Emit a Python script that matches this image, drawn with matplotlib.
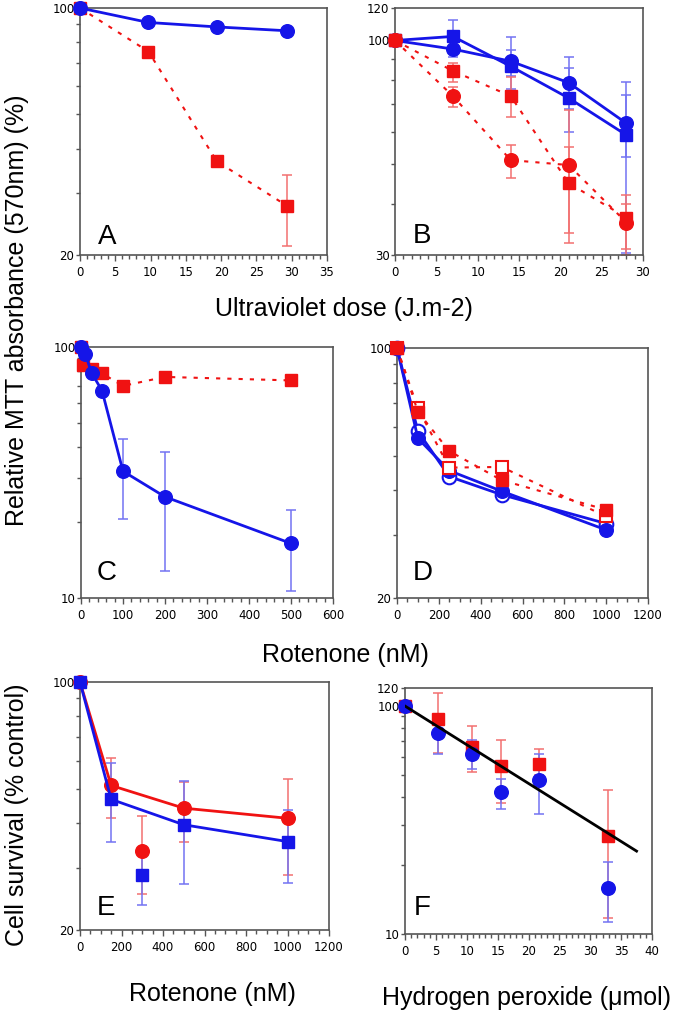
import numpy as np
import matplotlib.pyplot as plt
from matplotlib.ticker import FixedLocator, NullFormatter, MultipleLocator

nan = np.nan

# colours
BLUE = '#1515e8'
RED = '#f01212'
BLUE_ERR = '#7373f2'
RED_ERR = '#f27070'

# ---- Panel A: ultraviolet dose
a_x = [0, 9.7, 19.4, 29.4]
a_blue = [100, 91, 88.4, 86.2]
a_red = [100, 75.3, 36.8, 27.5]
a_red_hi = [nan, nan, nan, 33.6]
a_red_lo = [nan, nan, nan, 21.2]

# ---- Panel B: ultraviolet dose, two lines each colour
b_x = [0, 7, 14, 21, 28]
b_blue_sq = [100, 102.3, 86.5, 72.4, 58.8]
b_blue_sq_hi = [nan, 112, 102, 85.6, 73.6]
b_blue_sq_lo = [nan, 93, 76, 60, 30.4]
b_blue_ci = [100, 95.3, 89, 78.9, 62.8]
b_blue_ci_hi = [nan, 99, 95, 91, 79.4]
b_blue_ci_lo = [nan, 91, 82, 68, 52.1]
b_red_sq = [100, 84.3, 73.2, 44.9, 37]
b_red_sq_hi = [nan, 88, 81.6, 67.7, 42]
b_red_sq_lo = [nan, 79, 65.1, 32.1, 30]
b_red_ci = [100, 73.2, 51.1, 49.7, 36]
b_red_ci_hi = [nan, 77, 55.6, 55.1, 40]
b_red_ci_lo = [nan, 68.8, 46.2, 33.9, 31]

# ---- Panel C: rotenone
c_blue_x = [0, 10, 25, 50, 100, 200, 500]
c_blue = [100, 94, 79, 67, 32, 25.3, 16.5]
c_blue_hi = [nan, nan, nan, nan, 42.9, 38.2, 22.4]
c_blue_lo = [nan, nan, nan, nan, 20.7, 12.8, 10.7]
c_red_x = [0, 5, 25, 50, 100, 200, 500]
c_red = [100, 84.5, 82, 78.5, 70, 76, 73.6]

# ---- Panel D: rotenone
d_x = [0, 100, 250, 500, 1000]
d_red_fill = [100, 66.3, 51.5, 42.7, 35.3]
d_red_open = [100, 67.8, 46.3, 46.5, 33.8]
d_blue_fill = [100, 55.9, 45.4, 39.8, 31.0]
d_blue_open = [100, 58.5, 43.7, 38.9, 32.3]

# ---- Panel E: rotenone, cell survival
e_x = [0, 150, 500, 1000]
e_red = [100, 51.1, 44.1, 41.3]
e_red_hi = [nan, 61, 52.2, 53.4]
e_red_lo = [nan, 41.3, 35.5, 28.6]
e_blue = [100, 46.7, 39.6, 35.5]
e_blue_hi = [nan, 59, 52.5, 43.6]
e_blue_lo = [nan, 35.4, 27, 27.2]
e_sep_x = [300]
e_sep_red = [33.4]
e_sep_red_hi = [42]
e_sep_red_lo = [25.3]
e_sep_blue = [28.6]
e_sep_blue_hi = [33]
e_sep_blue_lo = [23.5]

# ---- Panel F: hydrogen peroxide
f_x = [0, 5.3, 10.9, 15.6, 21.7, 32.9]
f_red = [100, 87.5, 66.2, 54.5, 55.9, 27]
f_red_hi = [nan, 114.5, 81.6, 70.8, 65.1, 42.7]
f_red_lo = [nan, 62, 51.4, 37.7, 50, 11.7]
f_blue = [100, 76.5, 61.9, 41.8, 47.3, 15.9]
f_blue_hi = [nan, 90, 70.8, 48.1, 61.5, 20.7]
f_blue_lo = [nan, 61.5, 53.2, 35.5, 33.6, 11.3]
f_fit_x = [0, 37.5]
f_fit_y = [100, 23.1]

W, H = 677, 1014
fig = plt.figure(figsize=(W / 100, H / 100), dpi=100)

LABEL_FONT = 'Liberation Sans'
TICK_FONT = 'DejaVu Sans'


def make_axes(l, t, r, b):
    # pixel box -> figure fraction
    return fig.add_axes([l / W, 1 - b / H, (r - l) / W, (b - t) / H])


def style_axes(ax, xmax, xmajor, xminor, ymin, ymax, ylabels, yminor):
    ax.set_yscale('log')
    ax.set_xlim(0, xmax)
    ax.set_ylim(ymin, ymax)
    ax.xaxis.set_major_locator(MultipleLocator(xmajor))
    ax.xaxis.set_minor_locator(MultipleLocator(xminor))
    ax.yaxis.set_major_locator(FixedLocator(ylabels))
    ax.yaxis.set_major_formatter(plt.FixedFormatter([str(v) for v in ylabels]))
    ax.yaxis.set_minor_locator(FixedLocator(yminor))
    ax.yaxis.set_minor_formatter(NullFormatter())
    for s in ax.spines.values():
        s.set_color('#555555')
        s.set_linewidth(1.2)
    ax.tick_params(axis='x', which='major', direction='out', length=4, width=1,
                   color='#555555', pad=4, labelsize=8.5)
    ax.tick_params(axis='x', which='minor', direction='out', length=3, width=1,
                   color='#555555')
    ax.tick_params(axis='y', which='major', direction='out', length=3, width=1,
                   color='#555555', pad=1, labelsize=8.5)
    ax.tick_params(axis='y', which='minor', direction='out', length=3, width=1,
                   color='#555555')
    for lab in ax.get_xticklabels() + ax.get_yticklabels():
        lab.set_fontfamily(TICK_FONT)


def errs(y, hi, lo, x, ax, color):
    y = np.array(y, dtype=float)
    hi = np.array(hi, dtype=float)
    lo = np.array(lo, dtype=float)
    keep = ~np.isnan(hi)
    xs = np.array(x, dtype=float)[keep]
    ax.errorbar(xs, y[keep], yerr=[y[keep] - lo[keep], hi[keep] - y[keep]],
                fmt='none', ecolor=color, elinewidth=1.1, capsize=3.5,
                capthick=1.1, zorder=2)


def letter(ax, s, x, y):
    ax.text(x, y, s, transform=ax.transAxes, fontsize=20, family=LABEL_FONT,
            ha='left', va='baseline')


MS = 9.3
DASH = (0, (2, 3.4))


def line(ax, x, y, color, marker, dashed=False, filled=True, z=3, ls=None):
    kw = dict(color=color, marker=marker, ms=MS + (0.5 if marker == 'o' else 0),
              zorder=z, clip_on=False)
    if ls == 'none':
        kw['ls'] = 'none'
    elif dashed:
        kw.update(ls=DASH, lw=1.5)
    else:
        kw.update(lw=2)
    if not filled:
        kw.update(mfc='white', mew=1.5)
    ax.plot(x, y, **kw)


# Panel A
ax = make_axes(80, 8, 327, 255)
style_axes(ax, 35, 5, 1, 20, 100, [20, 100], [30, 40, 50, 60, 70, 80, 90])
errs(a_red, a_red_hi, a_red_lo, a_x, ax, RED_ERR)
line(ax, a_x, a_red, RED, 's', dashed=True)
line(ax, a_x, a_blue, BLUE, 'o', z=4)
letter(ax, 'A', 0.073, 0.045)

# Panel B
ax = make_axes(395, 8, 643, 255)
style_axes(ax, 30, 5, 1, 30, 120, [30, 100, 120], [40, 50, 60, 70, 80, 90])
errs(b_blue_sq, b_blue_sq_hi, b_blue_sq_lo, b_x, ax, BLUE_ERR)
errs(b_blue_ci, b_blue_ci_hi, b_blue_ci_lo, b_x, ax, BLUE_ERR)
errs(b_red_sq, b_red_sq_hi, b_red_sq_lo, b_x, ax, RED_ERR)
errs(b_red_ci, b_red_ci_hi, b_red_ci_lo, b_x, ax, RED_ERR)
line(ax, b_x, b_blue_sq, BLUE, 's')
line(ax, b_x, b_blue_ci, BLUE, 'o')
line(ax, b_x, b_red_sq, RED, 's', dashed=True, z=4)
line(ax, b_x, b_red_ci, RED, 'o', dashed=True, z=4)
letter(ax, 'B', 0.073, 0.049)

# Panel C
ax = make_axes(81, 347, 333, 598)
style_axes(ax, 600, 100, 20, 10, 100, [10, 100], [20, 30, 40, 50, 60, 70, 80, 90])
errs(c_blue, c_blue_hi, c_blue_lo, c_blue_x, ax, BLUE_ERR)
line(ax, c_red_x, c_red, RED, 's', dashed=True)
line(ax, c_blue_x, c_blue, BLUE, 'o', z=4)
letter(ax, 'C', 0.063, 0.072)

# Panel D
ax = make_axes(397, 348, 648, 598)
style_axes(ax, 1200, 200, 50, 20, 100, [20, 100], [30, 40, 50, 60, 70, 80, 90])
line(ax, d_x, d_blue_open, BLUE, 'o', filled=False)
line(ax, d_x, d_blue_fill, BLUE, 'o')
line(ax, d_x, d_red_open, RED, 's', dashed=True, filled=False, z=4)
line(ax, d_x, d_red_fill, RED, 's', dashed=True, z=4)
letter(ax, 'D', 0.064, 0.072)

# Panel E
ax = make_axes(80, 682, 329, 930)
style_axes(ax, 1200, 200, 50, 20, 100, [20, 100], [30, 40, 50, 60, 70, 80, 90])
errs(e_red, e_red_hi, e_red_lo, e_x, ax, RED_ERR)
errs(e_blue, e_blue_hi, e_blue_lo, e_x, ax, BLUE_ERR)
errs(e_sep_red, e_sep_red_hi, e_sep_red_lo, e_sep_x, ax, RED_ERR)
errs(e_sep_blue, e_sep_blue_hi, e_sep_blue_lo, e_sep_x, ax, BLUE_ERR)
line(ax, e_x, e_red, RED, 'o')
line(ax, e_x, e_blue, BLUE, 's', z=4)
line(ax, e_sep_x, e_sep_red, RED, 'o', ls='none')
line(ax, e_sep_x, e_sep_blue, BLUE, 's', ls='none', z=4)
letter(ax, 'E', 0.068, 0.06)

# Panel F
ax = make_axes(405, 688, 652, 934)
style_axes(ax, 40, 5, 1, 10, 120, [10, 100, 120], [20, 30, 40, 50, 60, 70, 80, 90])
errs(f_red, f_red_hi, f_red_lo, f_x, ax, RED_ERR)
errs(f_blue, f_blue_hi, f_blue_lo, f_x, ax, BLUE_ERR)
line(ax, f_x, f_red, RED, 's', ls='none')
line(ax, f_x, f_blue, BLUE, 'o', ls='none', z=4)
ax.plot(f_fit_x, f_fit_y, color='black', lw=2, zorder=5)
letter(ax, 'F', 0.036, 0.077)

# shared labels
fig.text(17 / W, 1 - 310 / H, 'Relative MTT absorbance (570nm) (%)', rotation=90,
         ha='center', va='center', fontsize=18, family=LABEL_FONT)
fig.text(17 / W, 1 - 815 / H, 'Cell survival (% control)', rotation=90,
         ha='center', va='center', fontsize=18, family=LABEL_FONT)
fig.text(344 / W, 1 - 309 / H, 'Ultraviolet dose (J.m-2)', ha='center', va='center',
         fontsize=18, family=LABEL_FONT)
fig.text(345 / W, 1 - 655 / H, 'Rotenone (nM)', ha='center', va='center',
         fontsize=18, family=LABEL_FONT)
fig.text(212 / W, 1 - 994 / H, 'Rotenone (nM)', ha='center', va='center',
         fontsize=18, family=LABEL_FONT)
fig.text(527 / W, 1 - 998 / H, 'Hydrogen peroxide (\u03bcmol)', ha='center', va='center',
         fontsize=18, family=LABEL_FONT)

fig.savefig('out.png', dpi=100)
